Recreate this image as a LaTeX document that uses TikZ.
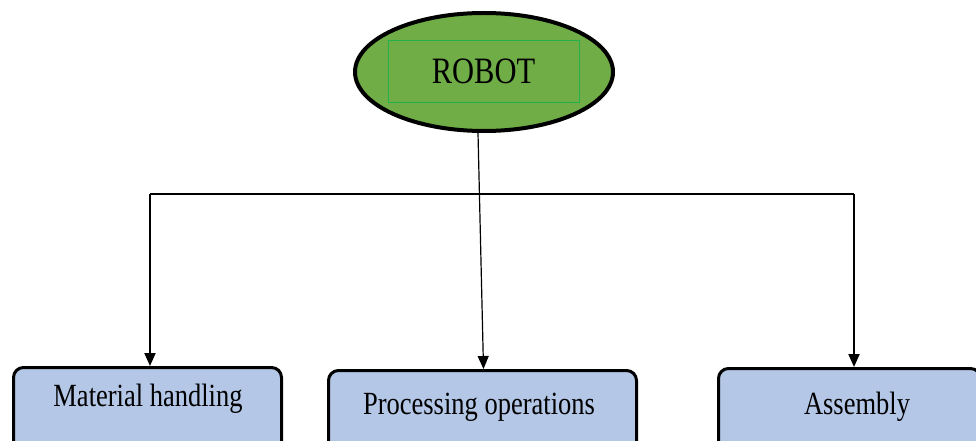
\documentclass[tikz,border=0pt]{standalone}
\usepackage{fontspec}
\setmainfont{Liberation Serif}
\usetikzlibrary{arrows.meta,shapes.geometric,calc}
\definecolor{leafgreen}{HTML}{70AD47}
\definecolor{framegreen}{HTML}{22B24C}
\definecolor{paleblue}{HTML}{B4C7E7}
\tikzset{
  hub/.style={ellipse, draw=black, line width=4pt, fill=leafgreen,
    minimum width=258pt, minimum height=118pt, inner sep=0pt},
  tagframe/.style={draw=framegreen, line width=0.8pt, minimum width=191pt,
    minimum height=62pt, inner sep=0pt, font=\fontsize{30.5}{34}\selectfont},
  task/.style={draw=black, line width=3pt, fill=paleblue, rounded corners=10pt,
    inner sep=0pt},
  caption/.style={font=\fontsize{26.5}{30}\selectfont, anchor=base},
  link/.style={draw=black, line width=2pt},
  feed/.style={link, -{Triangle[width=11pt,length=13pt]}},
}
\newcommand{\tall}[1]{\scalebox{1}[1.22]{#1}}
\begin{document}
\begin{tikzpicture}[x=1pt,y=-1pt]
  \clip (0,0) rectangle (976,441);
  \fill[white] (0,0) rectangle (976,441);

  % top node
  \node[hub] (robot) at (484,72) {};
  \node[tagframe] (tag) at (483.5,71) {\tall{ROBOT}};

  % three application boxes
  \node[task, minimum width=268pt, minimum height=92pt, anchor=north west] (mat) at (12,366) {};
  \node[caption] at (148,406) {\tall{Material handling}};
  \node[task, minimum width=308pt, minimum height=90pt, anchor=north west] (proc) at (327,369) {};
  \node[caption] at (479,414) {\tall{Processing operations}};
  \node[task, minimum width=262pt, minimum height=92pt, anchor=north west] (asm) at (717,367) {};
  \node[caption] at (857,414) {\tall{Assembly}};

  % distribution bar
  \coordinate (busL) at (150,194);
  \coordinate (busR) at (854,194);
  \draw[link] (busL) -- (busR);
  \draw[feed] (busL) -- (busL |- mat.north);
  \draw[feed] (busR) -- (busR |- asm.north);
  \draw[black, line width=1.2pt, -{Triangle[width=11pt,length=13pt]}]
    ([xshift=-6pt]robot.south) -- ([xshift=1pt]proc.north);
\end{tikzpicture}
\end{document}
